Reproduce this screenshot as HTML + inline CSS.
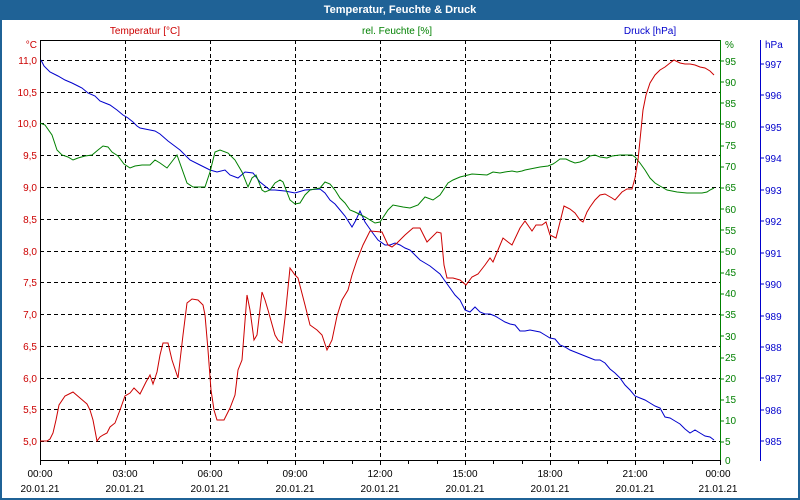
<!DOCTYPE html>
<html><head><meta charset="utf-8"><style>
html,body{margin:0;padding:0;background:#fff}
svg{display:block;font-family:"Liberation Sans",sans-serif}
</style></head><body>
<svg width="800" height="500" viewBox="0 0 800 500" xmlns="http://www.w3.org/2000/svg">
<rect x="0" y="0" width="800" height="500" fill="#1f6296"/>
<rect x="2" y="20" width="796" height="478" fill="#fff"/>
<text x="400" y="13" fill="#fff" font-size="11" font-weight="bold" text-anchor="middle">Temperatur, Feuchte &amp; Druck</text>
<text x="145" y="34" fill="#cc0000" font-size="10" text-anchor="middle">Temperatur [°C]</text>
<text x="397" y="34" fill="#008000" font-size="10" text-anchor="middle">rel. Feuchte [%]</text>
<text x="650" y="34" fill="#0000cc" font-size="10" text-anchor="middle">Druck [hPa]</text>
<g stroke="#000" stroke-dasharray="4,3" stroke-width="1">
<line x1="40" y1="60.5" x2="720" y2="60.5"/><line x1="40" y1="92.5" x2="720" y2="92.5"/><line x1="40" y1="123.5" x2="720" y2="123.5"/><line x1="40" y1="155.5" x2="720" y2="155.5"/><line x1="40" y1="187.5" x2="720" y2="187.5"/><line x1="40" y1="219.5" x2="720" y2="219.5"/><line x1="40" y1="251.5" x2="720" y2="251.5"/><line x1="40" y1="282.5" x2="720" y2="282.5"/><line x1="40" y1="314.5" x2="720" y2="314.5"/><line x1="40" y1="346.5" x2="720" y2="346.5"/><line x1="40" y1="378.5" x2="720" y2="378.5"/><line x1="40" y1="409.5" x2="720" y2="409.5"/><line x1="40" y1="441.5" x2="720" y2="441.5"/>
<line x1="125.5" y1="40" x2="125.5" y2="460"/><line x1="210.5" y1="40" x2="210.5" y2="460"/><line x1="295.5" y1="40" x2="295.5" y2="460"/><line x1="380.5" y1="40" x2="380.5" y2="460"/><line x1="465.5" y1="40" x2="465.5" y2="460"/><line x1="550.5" y1="40" x2="550.5" y2="460"/><line x1="635.5" y1="40" x2="635.5" y2="460"/>
</g>
<line x1="40" y1="40.5" x2="720" y2="40.5" stroke="#000"/>
<line x1="40.5" y1="40" x2="40.5" y2="461" stroke="#000"/>
<line x1="40" y1="460.5" x2="720" y2="460.5" stroke="#000"/>
<line x1="720.5" y1="40" x2="720.5" y2="461" stroke="#008000"/>
<line x1="760.5" y1="40" x2="760.5" y2="461" stroke="#0000cc"/>
<g stroke="#000">
<path d="M40.5 460v5M68.5 460v4M97.5 460v4M125.5 460v5M153.5 460v4M182.5 460v4M210.5 460v5M238.5 460v4M267.5 460v4M295.5 460v5M323.5 460v4M352.5 460v4M380.5 460v5M408.5 460v4M437.5 460v4M465.5 460v5M493.5 460v4M522.5 460v4M550.5 460v5M578.5 460v4M607.5 460v4M635.5 460v5M663.5 460v4M692.5 460v4M720.5 460v5"/>
</g>
<g fill="#cc0000" font-size="10" text-anchor="end">
<text x="37" y="48" fill="#cc0000">°C</text>
<text x="37" y="64">11,0</text><text x="37" y="96">10,5</text><text x="37" y="127">10,0</text><text x="37" y="159">9,5</text><text x="37" y="191">9,0</text><text x="37" y="223">8,5</text><text x="37" y="255">8,0</text><text x="37" y="286">7,5</text><text x="37" y="318">7,0</text><text x="37" y="350">6,5</text><text x="37" y="382">6,0</text><text x="37" y="413">5,5</text><text x="37" y="445">5,0</text>
</g>
<g fill="#008000" font-size="10">
<text x="725" y="48">%</text>
<text x="725" y="65">95</text><text x="725" y="86">90</text><text x="725" y="107">85</text><text x="725" y="128">80</text><text x="725" y="149">75</text><text x="725" y="170">70</text><text x="725" y="191">65</text><text x="725" y="213">60</text><text x="725" y="234">55</text><text x="725" y="255">50</text><text x="725" y="276">45</text><text x="725" y="297">40</text><text x="725" y="318">35</text><text x="725" y="340">30</text><text x="725" y="361">25</text><text x="725" y="382">20</text><text x="725" y="403">15</text><text x="725" y="424">10</text><text x="725" y="445">5</text><text x="725" y="464">0</text>
</g>
<g stroke="#008000"><path d="M720 61h4M720 82h4M720 103h4M720 124h4M720 146h4M720 167h4M720 188h4M720 209h4M720 230h4M720 252h4M720 273h4M720 294h4M720 315h4M720 336h4M720 358h4M720 379h4M720 400h4M720 421h4M720 442h4"/></g>
<g stroke="#0000cc"><path d="M760 64h4M760 95h4M760 127h4M760 158h4M760 190h4M760 221h4M760 253h4M760 284h4M760 316h4M760 347h4M760 378h4M760 410h4M760 441h4"/></g>
<g fill="#0000cc" font-size="10">
<text x="765" y="48">hPa</text>
<text x="765" y="68">997</text><text x="765" y="99">996</text><text x="765" y="131">995</text><text x="765" y="162">994</text><text x="765" y="194">993</text><text x="765" y="225">992</text><text x="765" y="257">991</text><text x="765" y="288">990</text><text x="765" y="320">989</text><text x="765" y="351">988</text><text x="765" y="382">987</text><text x="765" y="414">986</text><text x="765" y="445">985</text>
</g>
<g fill="#000" font-size="10" text-anchor="middle">
<text x="40" y="477">00:00</text><text x="125" y="477">03:00</text><text x="210" y="477">06:00</text><text x="295" y="477">09:00</text><text x="380" y="477">12:00</text><text x="465" y="477">15:00</text><text x="550" y="477">18:00</text><text x="635" y="477">21:00</text><text x="718" y="477">00:00</text>
<text x="40" y="492">20.01.21</text><text x="125" y="492">20.01.21</text><text x="210" y="492">20.01.21</text><text x="295" y="492">20.01.21</text><text x="380" y="492">20.01.21</text><text x="465" y="492">20.01.21</text><text x="550" y="492">20.01.21</text><text x="635" y="492">20.01.21</text><text x="718" y="492">21.01.21</text>
</g>
<polyline fill="none" stroke="#0000cc" stroke-width="1" points="41,60 44,66 50,72 58,76 65,80 72,83 78,86 82,88 88,93 95,96 100,101 105,103 110,105 117,110 123,115 128,118 133,122 137,126 140,128 145,129 150,130 155,131 160,134 168,141 180,150 190,160 200,165 210,170 217,172 225,170 230,175 238,178 245,172 253,173 260,182 270,190 275,190 285,191 295,193 305,190 320,189 325,193 330,200 335,204 340,210 345,216 352,227 356,220 360,211 365,222 372,232 378,240 385,245 390,245 395,243 400,245 405,248 410,250 415,255 420,260 425,263 430,266 435,270 440,274 445,281 450,288 455,295 460,300 465,310 470,312 475,307 480,312 485,314 490,314 495,316 500,319 505,322 510,324 515,325 520,331 525,331 530,330 535,331 540,332 545,335 550,338 555,339 560,345 565,347 570,350 575,352 580,354 585,356 590,358 595,360 600,360 605,363 610,369 615,373 620,378 625,385 630,390 635,396 640,398 645,400 650,403 655,406 660,408 665,417 670,418 675,421 680,424 685,429 690,433 695,430 700,433 705,436 710,437 714,440"/>
<polyline fill="none" stroke="#008000" stroke-width="1" points="40,123 45,125 52,135 57,150 62,155 68,157 73,160 78,158 85,156 92,155 98,150 103,146 108,147 112,152 118,156 124,164 130,168 135,166 142,165 150,165 155,160 160,163 167,168 177,155 187,183 193,187 205,187 210,172 215,152 220,150 228,153 235,160 242,172 248,187 252,178 256,175 262,190 265,192 270,190 275,183 280,180 283,182 290,200 295,204 300,203 305,195 310,190 320,188 325,182 330,184 335,190 340,198 345,203 350,210 355,212 365,217 375,223 380,222 388,210 393,205 403,207 410,208 418,205 425,197 433,200 440,195 448,183 453,180 460,177 472,174 487,175 493,172 500,173 505,172 512,171 517,172 522,171 525,170 530,169 535,168 540,167 548,166 553,164 556,162 560,159 566,159 570,161 575,163 580,162 585,160 590,156 595,155 600,157 607,158 612,156 620,155 628,155 632,155 635,157 640,163 645,170 650,178 655,183 660,186 667,190 677,192 687,193 702,193 707,192 710,190 714,188"/>
<polyline fill="none" stroke="#cc0000" stroke-width="1" points="40,441 47,441 50,439 53,433 56,420 59,405 65,396 73,392 80,398 87,404 90,410 93,420 97,441 100,437 103,435 107,433 110,427 115,423 120,410 125,396 130,393 134,388 140,394 146,382 150,375 153,384 157,372 160,355 163,343 168,343 172,360 178,378 183,335 187,303 192,299 198,300 203,305 205,315 208,350 211,390 214,410 217,420 224,420 230,408 235,395 238,370 242,360 247,295 250,310 254,340 257,335 262,292 265,300 268,310 275,335 278,340 282,343 285,318 290,268 295,275 298,278 305,305 310,325 317,330 322,335 327,350 332,340 337,316 342,300 348,290 352,275 357,260 363,245 370,231 382,232 388,245 392,247 397,243 405,235 413,228 420,228 427,242 437,232 441,233 444,265 447,278 453,278 460,280 466,285 472,277 478,274 485,265 490,258 493,262 498,250 503,238 508,242 512,245 520,228 525,221 532,231 536,225 542,225 546,222 550,235 556,238 564,206 570,209 575,213 580,220 583,222 587,212 590,207 595,200 600,195 605,194 612,198 615,200 622,192 627,189 632,189 635,178 638,160 640,140 643,110 646,95 650,83 655,75 660,70 665,67 670,63 674,60 680,63 685,64 690,64 695,65 700,67 705,68 710,71 714,75"/>
</svg>
</body></html>
